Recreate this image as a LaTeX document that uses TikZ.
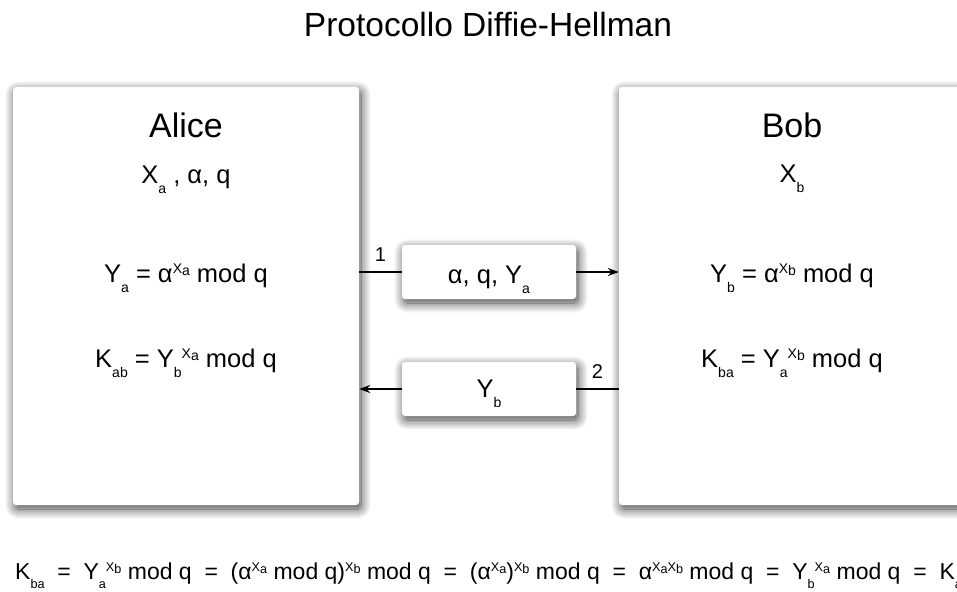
\documentclass[tikz,border=0pt]{standalone}
\usepackage{fontspec}
\setmainfont{Liberation Sans}
\usepackage{graphicx}
\usetikzlibrary{arrows.meta, shadows.blur}

\newcommand{\dn}[1]{\raisebox{-0.42em}{\scalebox{0.55}{#1}}}
\newcommand{\up}[1]{\raisebox{0.34em}{\scalebox{0.55}{#1}}}
\newcommand{\xx}[1]{X\raisebox{-0.18em}{#1}}

\tikzset{
	actor/.style={fill=white, rounded corners=3pt, inner sep=0pt,
		blur shadow={shadow xshift=2pt, shadow yshift=-4pt, shadow blur radius=10pt, shadow blur steps=14, shadow opacity=75}},
	msgbox/.style={actor, minimum width=174pt, minimum height=54pt},
	titre/.style={anchor=base, inner sep=0pt, font=\fontsize{33.5}{38}\selectfont},
	nom/.style={anchor=base, inner sep=0pt, font=\fontsize{34}{38}\selectfont},
	txt/.style={anchor=base, inner sep=0pt, font=\fontsize{25.5}{30}\selectfont},
	num/.style={above=10pt, inner sep=0pt, font=\fontsize{20}{24}\selectfont},
	msg/.style={line width=2pt, -{Stealth[length=11pt, width=8pt]}},
}

\begin{document}
\begin{tikzpicture}[x=1pt, y=-1pt]
	\useasboundingbox (0,0) rectangle (957,591);
	\clip (0,0) rectangle (957,591);
	\node[titre] (titre) at (488,37) {Protocollo Diffie-Hellman};
	% les deux acteurs
	\node[actor, minimum width=346pt, minimum height=418pt] (alice) at (186,296) {};
	\node[actor, minimum width=346pt, minimum height=418pt] (bob) at (792,296) {};
	\node[nom] (nomA) at (186,137) {Alice};
	\node[txt] (donA) at (186,183) {X\dn{a} , α, q};
	\node[txt] (calcA) at (186,282) {Y\dn{a} = α\up{\xx{a}} mod q};
	\node[txt] (cleA) at (186,367) {K\dn{ab} = Y\dn{b}\up{\xx{a}} mod q};
	\node[nom] (nomB) at (792,137) {Bob};
	\node[txt] (donB) at (792,182) {X\dn{b}};
	\node[txt] (calcB) at (792,282) {Y\dn{b} = α\up{\xx{b}} mod q};
	\node[txt] (cleB) at (792,367) {K\dn{ba} = Y\dn{a}\up{\xx{b}} mod q};
	% messages
	\node[msgbox] (msgA) at (489,272) {};
	\node[msgbox] (msgB) at (489,389) {};
	\node[txt] (txtA) at (489,283) {α, q, Y\dn{a}};
	\node[txt] (txtB) at (489,397) {Y\dn{b}};
	\draw[line width=2pt] (msgA.west -| alice.east) -- node[num]{1} (msgA.west);
	\draw[msg] (msgA.east) -- (msgA.east -| bob.west);
	\draw[line width=2pt] (msgB.east -| bob.west) -- node[num]{2} (msgB.east);
	\draw[msg] (msgB.west) -- (msgB.west -| alice.east);
	% verification
	\node[txt, anchor=base west, font=\fontsize{23}{28}\selectfont] (egal) at (15,579)
		{K\dn{ba}\ \ =\ \ Y\dn{a}\up{\xx{b}} mod q\ \ =\ \ (α\up{\xx{a}} mod q)\up{\xx{b}} mod q\ \ =\ \ (α\up{\xx{a}})\up{\xx{b}} mod q\ \ =\ \ α\up{\xx{a}\xx{b}} mod q\ \ =\ \ Y\dn{b}\up{\xx{a}} mod q\ \ =\ \ K\dn{ab}};
\end{tikzpicture}
\end{document}
